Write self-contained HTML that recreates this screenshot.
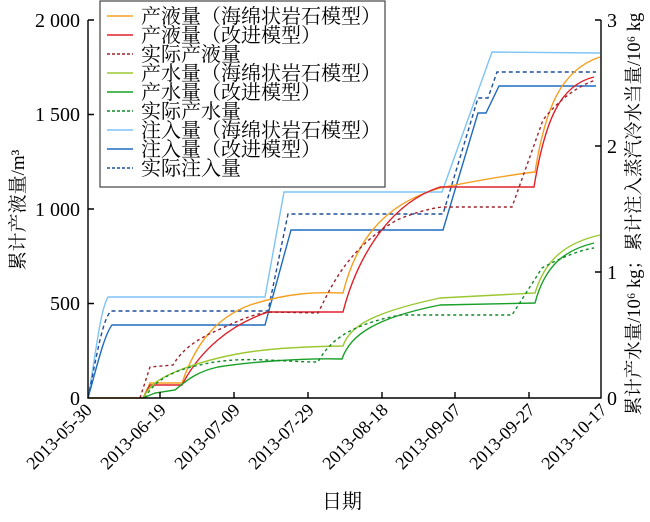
<!DOCTYPE html>
<html><head><meta charset="utf-8"><style>
html,body{margin:0;padding:0;background:#fff;}
svg text{font-family:"Liberation Serif","Noto Serif CJK SC",serif;fill:#000;}
</style></head><body>
<svg width="650" height="517" viewBox="0 0 650 517" xmlns="http://www.w3.org/2000/svg">
<g fill="none" stroke-width="1.4">
<path stroke="#7fc4f5" d="M88,398 C95,360 100,310 108,297 L265,297 L284,192 L442,192 L492,52 L600,53"/>
<path stroke="#1f4e9a" stroke-dasharray="4,3" d="M88,398 C96,360 102,320 111,311 L268,311 L288,214 L443,214 L478,98 L488,98 L497,72 L596,72"/>
<path stroke="#1f6bbf" d="M88,398 C96,370 104,335 112,325 L265,325 L291,230 L443,230 L478,113 L486,113 L499,86 L596,86"/>
<path stroke="#f5a020" d="M88,398 L143,398 L150,383 L182,383 C195,345 215,318 250,305 C290,292 320,292 343,293 C355,245 380,205 440,188 C480,180 510,175 535,172 C545,110 560,70 600,57"/>
<path stroke="#e0202a" d="M143,398 L150,385 L182,385 C200,350 230,325 268,312 L343,312 C355,265 385,205 440,187 L534,187 C545,120 560,85 594,77"/>
<path stroke="#a0202a" stroke-dasharray="3,3" d="M140,398 L150,367 L173,365 C182,350 195,340 218,330 C240,320 255,313 272,312 L318,313 C330,290 345,250 397,220 C420,210 440,207 443,207 L512,207 L543,120 C560,98 580,85 596,80"/>
<path stroke="#9ac830" d="M143,398 C150,385 158,378 185,368 C230,352 270,347 343,346 C350,325 375,312 440,298 L535,293 C545,260 565,243 600,235"/>
<path stroke="#18a028" d="M143,398 L155,393 L175,390 C185,382 195,372 218,367 C250,362 300,358 342,359 C350,335 375,318 440,305 L535,303 C545,265 565,250 594,243"/>
<path stroke="#108a28" stroke-dasharray="3,3" d="M145,398 C152,385 165,372 200,365 C240,355 280,362 318,362 C330,340 350,325 400,315 L512,315 L542,268 C560,258 580,250 594,248"/>
</g>
<g stroke="#000" stroke-width="1.4" fill="none">
<path d="M88,20 L88,398 L601,398 L601,20"/>
<path d="M88,20 h6 M88,114.5 h6 M88,209 h6 M88,303.5 h6"/>
<path d="M601,20 h-6 M601,146 h-6 M601,272 h-6"/>
<path d="M160,398 v-6 M234,398 v-6 M308,398 v-6 M382,398 v-6 M455,398 v-6 M529,398 v-6"/>
</g>
<g font-size="20" text-anchor="end">
<text x="80" y="27">2 000</text>
<text x="80" y="121">1 500</text>
<text x="80" y="216">1 000</text>
<text x="80" y="310">500</text>
<text x="80" y="405">0</text>
</g>
<g font-size="20">
<text x="607" y="27">3</text>
<text x="607" y="153">2</text>
<text x="607" y="279">1</text>
<text x="607" y="405">0</text>
</g>
<g font-size="18" text-anchor="end">
<text transform="translate(93,411) rotate(-45)">2013-05-30</text>
<text transform="translate(167,411) rotate(-45)">2013-06-19</text>
<text transform="translate(241,411) rotate(-45)">2013-07-09</text>
<text transform="translate(315,411) rotate(-45)">2013-07-29</text>
<text transform="translate(389,411) rotate(-45)">2013-08-18</text>
<text transform="translate(462,411) rotate(-45)">2013-09-07</text>
<text transform="translate(536,411) rotate(-45)">2013-09-27</text>
<text transform="translate(608,411) rotate(-45)">2013-10-17</text>
</g>
<text x="342" y="508" font-size="20" text-anchor="middle">日期</text>
<text transform="translate(24,210) rotate(-90)" font-size="19" text-anchor="middle">累计产液量/m³</text>
<text transform="translate(640,214) rotate(-90)" font-size="18.5" text-anchor="middle">累计产水量/10⁶ kg；累计注入蒸汽冷水当量/10⁶ kg</text>
<rect x="100" y="1" width="285" height="186" fill="#fff" stroke="#444" stroke-width="1.2"/>
<g stroke-width="1.4">
<line x1="107" y1="16" x2="133" y2="16" stroke="#f5a020"/>
<line x1="107" y1="35" x2="133" y2="35" stroke="#e0202a"/>
<line x1="107" y1="54" x2="133" y2="54" stroke="#a0202a" stroke-dasharray="3,2"/>
<line x1="107" y1="73" x2="133" y2="73" stroke="#9ac830"/>
<line x1="107" y1="92" x2="133" y2="92" stroke="#18a028"/>
<line x1="107" y1="111" x2="133" y2="111" stroke="#108a28" stroke-dasharray="3,2"/>
<line x1="107" y1="130" x2="133" y2="130" stroke="#7fc4f5"/>
<line x1="107" y1="149" x2="133" y2="149" stroke="#1f6bbf"/>
<line x1="107" y1="168" x2="133" y2="168" stroke="#1f4e9a" stroke-dasharray="3,2"/>
</g>
<g font-size="20">
<text x="141" y="23">产液量（海绵状岩石模型）</text>
<text x="141" y="42">产液量（改进模型）</text>
<text x="141" y="61">实际产液量</text>
<text x="141" y="80">产水量（海绵状岩石模型）</text>
<text x="141" y="99">产水量（改进模型）</text>
<text x="141" y="118">实际产水量</text>
<text x="141" y="137">注入量（海绵状岩石模型）</text>
<text x="141" y="156">注入量（改进模型）</text>
<text x="141" y="175">实际注入量</text>
</g>
</svg>
</body></html>
